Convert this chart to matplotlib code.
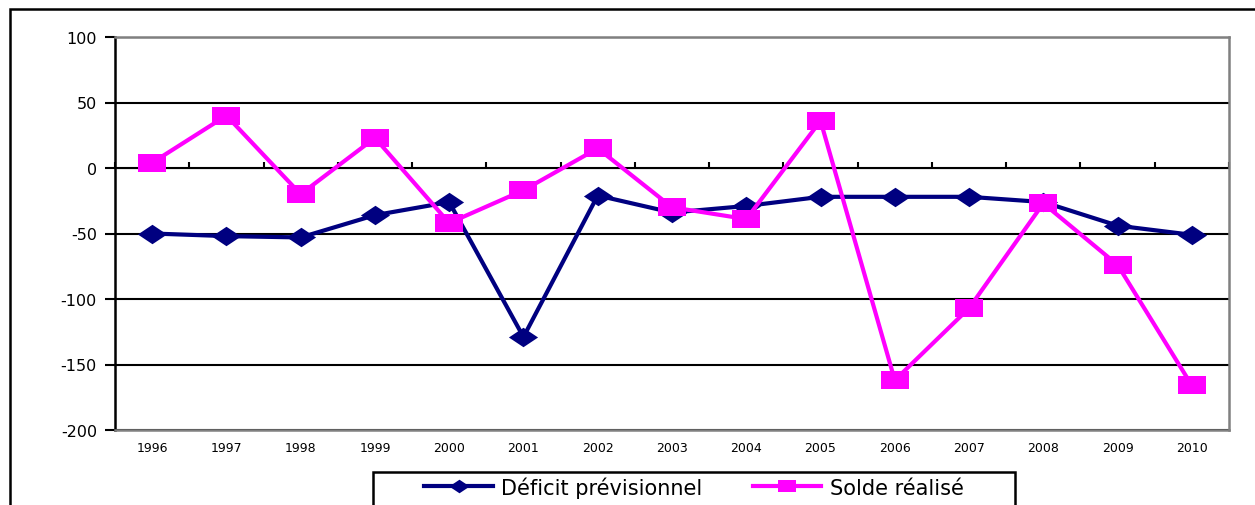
import matplotlib
matplotlib.use("Agg")
import matplotlib.pyplot as plt
from matplotlib.patches import Rectangle
from matplotlib.path import Path
import numpy as np

plt.rcParams['font.family'] = ['DejaVu Sans']

years = ['1996', '1997', '1998', '1999', '2000', '2001', '2002', '2003',
         '2004', '2005', '2006', '2007', '2008', '2009', '2010']
deficit_previsionnel = [-50, -52, -53, -36, -26, -129, -21, -34,
                        -29, -22, -22, -22, -26, -44, -51]
solde_realise = [4, 40, -20, 23, -42, -17, 15, -30,
                 -39, 36, -162, -107, -27, -74, -166]
y_ticks = [100, 50, 0, -50, -100, -150, -200]

NAVY = '#000080'
MAGENTA = '#FF00FF'

# wide diamond and wide square markers
diamond = Path([(-1.5, 0), (0, 1), (1.5, 0), (0, -1), (-1.5, 0)],
               [Path.MOVETO, Path.LINETO, Path.LINETO, Path.LINETO, Path.CLOSEPOLY])
square = Path([(-1.5, -1), (1.5, -1), (1.5, 1), (-1.5, 1), (-1.5, -1)],
              [Path.MOVETO, Path.LINETO, Path.LINETO, Path.LINETO, Path.CLOSEPOLY])

W, H = 1255, 506
fig = plt.figure(figsize=(W / 100, H / 100), dpi=100)
ax = fig.add_axes([115 / W, 1 - 431 / H, (1229 - 115) / W, (431 - 38) / H])

x = np.arange(len(years))
ax.plot(x, deficit_previsionnel, color=NAVY, lw=3, marker=diamond,
        markersize=21, markeredgewidth=0, label='Déficit prévisionnel', zorder=3)
ax.plot(x, solde_realise, color=MAGENTA, lw=3, marker=square,
        markersize=19.5, markeredgewidth=0, label='Solde réalisé', zorder=4)

ax.set_xlim(-0.5, len(years) - 0.5)
ax.set_ylim(-200, 100)
ax.set_yticks(y_ticks)
ax.set_yticklabels([str(v) for v in y_ticks], fontsize=11.5)
ax.tick_params(axis='y', direction='out', length=7, width=1.5, color='black', pad=6)

ax.set_xticks(x)
ax.set_xticklabels(years, fontsize=9)
ax.tick_params(axis='x', length=0, pad=8)

# horizontal gridlines
ax.yaxis.grid(True, color='black', lw=1.5)
ax.set_axisbelow(True)

for side in ('top', 'right', 'bottom'):
    ax.spines[side].set_color('#808080')
    ax.spines[side].set_linewidth(1.8)
ax.spines['left'].set_color('black')
ax.spines['left'].set_linewidth(1.8)

# category axis crossing at zero with boundary tick marks
zero_frac = (0 - (-200)) / (100 - (-200))
sec = ax.secondary_xaxis(zero_frac)
sec.set_xticks(np.arange(-0.5, len(years), 1.0))
sec.set_xticklabels([])
sec.tick_params(direction='out', length=4, width=1.5, color='black')
sec.spines['bottom'].set_color('black')
sec.spines['bottom'].set_linewidth(1.5)

# legend entries, with a separate box around them
leg_left, leg_right, leg_top = 373 / W, 1015 / W, 1 - 473 / H
leg = fig.legend(loc='upper center',
                 bbox_to_anchor=((leg_left + leg_right) / 2, leg_top),
                 ncol=2, fontsize=15, frameon=False, handlelength=3.3,
                 markerscale=0.7, columnspacing=2.4, handletextpad=0.4,
                 borderpad=0.2, borderaxespad=0)
fig.add_artist(Rectangle((leg_left, -0.2), leg_right - leg_left, leg_top + 0.2,
                         transform=fig.transFigure, fill=False,
                         edgecolor='black', lw=1.8))

# outer chart frame
fig.add_artist(Rectangle((10 / W, -0.2), 1.2, 1.2 - 10 / H,
                         transform=fig.transFigure, fill=False,
                         edgecolor='black', lw=1.8))

fig.savefig('out.png', dpi=100)
